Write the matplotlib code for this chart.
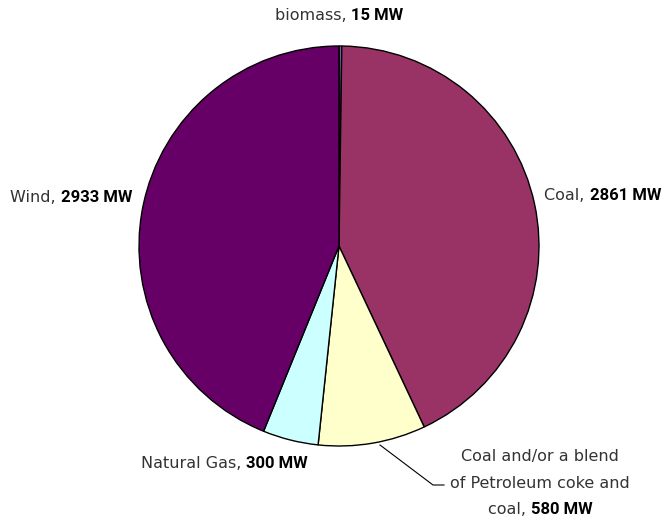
import matplotlib
matplotlib.use("Agg")
import matplotlib.pyplot as plt

# capacity by fuel type (MW)
labels = ["biomass", "Coal", "Coal and/or a blend of Petroleum coke and coal", "Natural Gas", "Wind"]
values = [15, 2861, 580, 300, 2933]
colors = ["#6a6aa8", "#993366", "#ffffcc", "#ccffff", "#660066"]

W, H = 663, 519
fig = plt.figure(figsize=(W / 100, H / 100), dpi=100)
ax = fig.add_axes([0, 0, 1, 1])

def Y(y):
    # image row -> axes y
    return H - y

ax.pie(values, colors=colors, startangle=90, counterclock=False,
       center=(339, Y(246)), radius=200, frame=True,
       wedgeprops=dict(edgecolor="black", linewidth=1.0))
ax.set_xlim(0, W)
ax.set_ylim(0, H)
ax.axis("off")

fs_norm = 11.5
fs_bold = 12
txt = dict(fontsize=fs_norm, color="#333333", family="DejaVu Sans")

def label(x, y, normal, bold, ha="left"):
    t = ax.text(x, Y(y), normal, ha="left", va="center", **txt)
    b = ax.annotate(bold, xy=(1, 0.5), xycoords=t, ha="left", va="center",
                    fontsize=fs_bold, fontweight="bold", color="black",
                    family="Roboto")
    if ha != "left":
        fig.canvas.draw()
        r = fig.canvas.get_renderer()
        w = t.get_window_extent(r).width + b.get_window_extent(r).width
        shift = w if ha == "right" else w / 2
        t.set_x(x - shift)

label(339, 15, "biomass, ", "15 MW", ha="center")
label(544, 196, "Coal, ", "2861 MW")
label(132, 197, "Wind, ", "2933 MW", ha="right")
label(141, 464, "Natural Gas, ", "300 MW")

ax.text(540, Y(456), "Coal and/or a blend", ha="center", va="center", **txt)
ax.text(540, Y(483), "of Petroleum coke and", ha="center", va="center", **txt)
label(540, 509, "coal, ", "580 MW", ha="center")

# leader line for the blend slice
ax.plot([380, 433, 444], [Y(445), Y(485), Y(485)], color="black", linewidth=0.8)

fig.savefig("out.png", dpi=100)
